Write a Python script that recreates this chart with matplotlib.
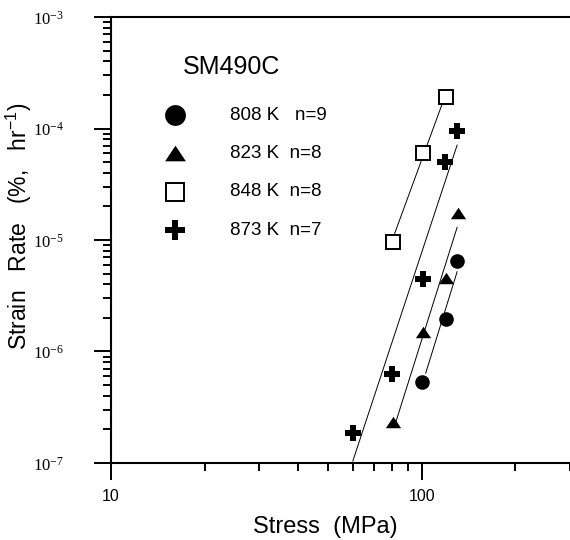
import numpy as np
import matplotlib
matplotlib.use("Agg")
import matplotlib.pyplot as plt
from matplotlib.ticker import FixedLocator, LogLocator, NullFormatter

plt.rcParams['font.family'] = ['Liberation Sans', 'DejaVu Sans']
plt.rcParams['mathtext.fontset'] = 'custom'
plt.rcParams['mathtext.rm'] = 'Liberation Serif'
plt.rcParams['mathtext.default'] = 'regular'

# data: stress (MPa) vs strain rate (%/hr)
s808 = [100, 120, 130]
e808 = [5.3e-7, 1.95e-6, 6.5e-6]
s823 = [81, 101, 120, 131]
e823 = [2.33e-7, 1.5e-6, 4.56e-6, 1.75e-5]
s848 = [81, 101, 120]
e848 = [9.6e-6, 6.0e-5, 1.92e-4]
s873 = [60, 80, 101, 119, 130]
e873 = [1.86e-7, 6.3e-7, 4.47e-6, 5.0e-5, 9.5e-5]

# fitted lines (end points)
fit808_x = [103, 130]
fit808_y = [6.4e-7, 5.2e-6]
fit823_x = [82, 130]
fit823_y = [2.2e-7, 1.3e-5]
fit848_x = [81, 120]
fit848_y = [1.06e-5, 2.1e-4]
fit873_x = [60, 130]
fit873_y = [1.04e-7, 7.1e-5]

key_labels = ["808 K   n=9", "823 K  n=8", "848 K  n=8", "873 K  n=7"]
yticks = [1e-7, 1e-6, 1e-5, 1e-4, 1e-3]
ytick_labels = [r'$\mathrm{10^{-7}}$', r'$\mathrm{10^{-6}}$', r'$\mathrm{10^{-5}}$',
                r'$\mathrm{10^{-4}}$', r'$\mathrm{10^{-3}}$']
xticks = [10, 100]
xtick_labels = ["10", "100"]

# flatter triangle than matplotlib's '^'
tri = [(-1, -0.75), (1, -0.75), (0, 0.75), (-1, -0.75)]

fig = plt.figure(figsize=(5.7, 5.4), dpi=100)
ax = fig.add_axes([0.1947, 0.1426, 0.8053, 0.8259])
ax.set_xscale('log')
ax.set_yscale('log')
ax.set_xlim(10, 300)
ax.set_ylim(1e-7, 1e-3)

# fit lines
for fx, fy in [(fit808_x, fit808_y), (fit823_x, fit823_y),
               (fit848_x, fit848_y), (fit873_x, fit873_y)]:
    ax.plot(fx, fy, color='black', lw=0.7)

# data points
ax.plot(s808, e808, 'o', color='black', ms=10.5, mew=0)
ax.plot(s823, e823, marker=tri, ls='none', color='black', ms=11, mew=0)
ax.plot(s848, e848, 's', mfc='white', mec='black', ms=9.5, mew=1.4)
ax.plot(s873, e873, 'P', color='black', ms=11.5, mew=0)

# key drawn by hand
tr = ax.transAxes
ax.text(0.157, 0.888, "SM490C", transform=tr, fontsize=18, va='center', ha='left')
key_y = [0.780, 0.695, 0.608, 0.522]
ax.plot(0.1394, key_y[0], 'o', color='black', ms=15, mew=0, transform=tr)
ax.plot(0.1394, key_y[1], marker=tri, color='black', ms=15, mew=0, transform=tr)
ax.plot(0.1394, key_y[2], 's', mfc='white', mec='black', ms=13.5, mew=1.4, transform=tr)
ax.plot(0.1394, key_y[3], 'P', color='black', ms=15, mew=0, transform=tr)
for ky, lab in zip(key_y, key_labels):
    ax.text(0.2593, ky, lab, transform=tr, fontsize=13.5, va='center', ha='left')

# axes styling
ax.spines['right'].set_visible(False)
for sp in ['left', 'bottom', 'top']:
    ax.spines[sp].set_linewidth(1.5)

ax.yaxis.set_major_locator(FixedLocator(yticks))
ax.set_yticklabels(ytick_labels, fontsize=12)
ax.yaxis.set_minor_locator(LogLocator(base=10, subs=np.arange(2, 10)))
ax.yaxis.set_minor_formatter(NullFormatter())
ax.xaxis.set_major_locator(FixedLocator(xticks))
ax.set_xticklabels(xtick_labels, fontsize=11.5)
ax.xaxis.set_minor_locator(LogLocator(base=10, subs=np.arange(2, 10)))
ax.xaxis.set_minor_formatter(NullFormatter())

ax.tick_params(which='major', direction='out', length=12, width=1.4)
ax.tick_params(which='minor', direction='out', length=6, width=1.4)
ax.tick_params(axis='y', which='major', pad=22)
ax.tick_params(axis='x', which='major', pad=7)
ax.tick_params(top=False, right=False, which='both')

ax.set_xlabel("Stress  (MPa)", fontsize=17)
ax.set_ylabel(r"Strain   Rate   (%,   hr$^{-1}$)", fontsize=16.5)
ax.xaxis.set_label_coords((325 - 111) / 459, -0.118)
ax.yaxis.set_label_coords(-0.168, 0.53)

fig.savefig("out.png", dpi=100)
